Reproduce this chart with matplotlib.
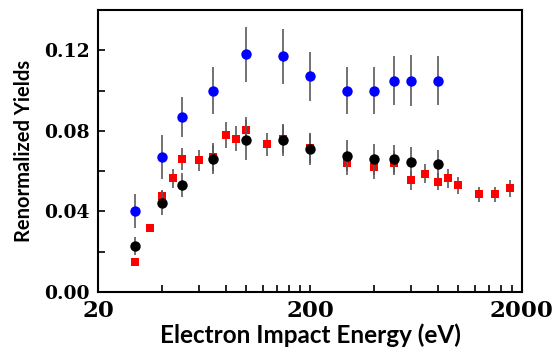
import matplotlib
matplotlib.use("Agg")
import matplotlib.pyplot as plt
from matplotlib.ticker import FixedLocator, NullFormatter

# energies (eV) and renormalized yields
blue_x = [30, 40, 50, 70, 100, 150, 200, 300, 400, 500, 600, 800]
blue_y = [0.040, 0.067, 0.087, 0.100, 0.118, 0.117, 0.107, 0.100, 0.100, 0.105, 0.105, 0.105]
blue_err = [0.0084, 0.011, 0.010, 0.0118, 0.0137, 0.0137, 0.0124, 0.0118, 0.0118, 0.0123, 0.0125, 0.0123]

black_x = [30, 40, 50, 70, 100, 150, 200, 300, 400, 500, 600, 800]
black_y = [0.0227, 0.0441, 0.0531, 0.0659, 0.0755, 0.0755, 0.0708, 0.0675, 0.0659, 0.0662, 0.0647, 0.0637]
black_err = [0.0045, 0.006, 0.0058, 0.0073, 0.0098, 0.0081, 0.0076, 0.0077, 0.0077, 0.007, 0.0072, 0.007]

red_x = [30, 35, 40, 45, 50, 60, 70, 80, 90, 100, 125, 150, 200, 300, 400, 500,
         600, 700, 800, 900, 1000, 1250, 1500, 1750]
red_y = [0.0146, 0.0318, 0.0478, 0.0564, 0.0662, 0.0654, 0.0672, 0.0781, 0.076, 0.0806,
         0.0733, 0.076, 0.0716, 0.0642, 0.0622, 0.0642, 0.0554, 0.0586, 0.0547, 0.0564,
         0.0529, 0.0485, 0.0485, 0.0514]
red_err = [0.001, 0.002, 0.003, 0.0047, 0.0055, 0.0052, 0.007, 0.0065, 0.0062, 0.0065,
           0.0057, 0.007, 0.0075, 0.006, 0.006, 0.006, 0.0046, 0.0047, 0.0042, 0.0047,
           0.0042, 0.0037, 0.0037, 0.0043]

x_major = [20, 200, 2000]
x_minor = [40, 60, 80, 100, 120, 140, 160, 180, 400, 600, 800, 1000, 1200, 1400, 1600, 1800]
y_major = [0.0, 0.04, 0.08, 0.12]
y_minor = [0.02, 0.06, 0.10]

fig = plt.figure(figsize=(5.57, 3.59), dpi=100)
ax = fig.add_axes([0.176, 0.187, 0.761, 0.785])

err_style = dict(ecolor='#5a5a5a', elinewidth=1.2, capsize=2.8, capthick=1.2, linestyle='none')
ax.errorbar(red_x, red_y, yerr=red_err, fmt='s', color='#ff0000', markersize=6.2,
            markeredgewidth=0, zorder=2, **err_style)
ax.errorbar(black_x, black_y, yerr=black_err, fmt='o', color='black', markersize=7.5,
            markeredgewidth=0, zorder=3, **err_style)
ax.errorbar(blue_x, blue_y, yerr=blue_err, fmt='o', color='#0000ff', markersize=7.5,
            markeredgewidth=0, zorder=4, **err_style)

ax.set_xscale('log')
ax.set_xlim(20, 2000)
ax.set_ylim(0, 0.14)

ax.xaxis.set_major_locator(FixedLocator(x_major))
ax.xaxis.set_minor_locator(FixedLocator(x_minor))
ax.xaxis.set_minor_formatter(NullFormatter())
ax.set_xticklabels([str(v) for v in x_major])
ax.yaxis.set_major_locator(FixedLocator(y_major))
ax.yaxis.set_minor_locator(FixedLocator(y_minor))
ax.set_yticklabels(['%.2f' % v for v in y_major])

ax.tick_params(which='both', direction='in', top=False, right=False, width=1.2, length=5)
ax.tick_params(axis='x', which='major', pad=6)
ax.tick_params(axis='y', which='major', pad=6)
for lab in ax.get_xticklabels():
    lab.set_fontfamily('DejaVu Serif')
    lab.set_fontweight('bold')
    lab.set_fontsize(16.5)
for lab in ax.get_yticklabels():
    lab.set_fontfamily('DejaVu Serif')
    lab.set_fontweight('bold')
    lab.set_fontsize(13.5)

for sp in ax.spines.values():
    sp.set_linewidth(1.5)

ax.set_xlabel('Electron Impact Energy (eV)', fontfamily='Lato', fontweight='bold', fontsize=17.5, labelpad=1)
ax.set_ylabel('Renormalized Yields', fontfamily='Lato', fontweight='bold', fontsize=14.5, labelpad=7)

fig.savefig('out.png', dpi=100)
